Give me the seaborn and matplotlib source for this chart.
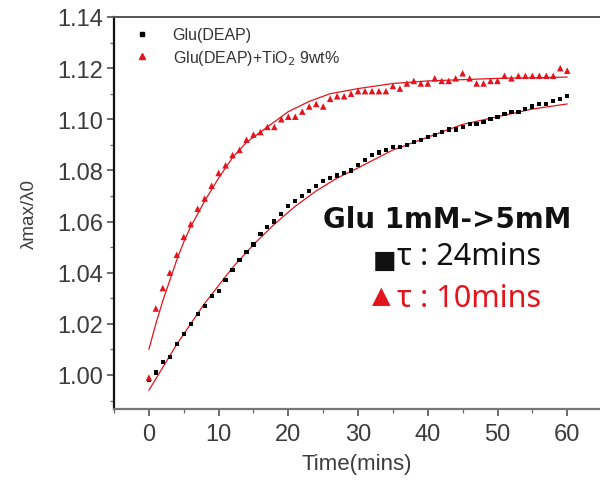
import numpy as np
import pandas as pd
import matplotlib
matplotlib.use("Agg")
import matplotlib.pyplot as plt
from matplotlib.lines import Line2D
from matplotlib.ticker import MultipleLocator
import seaborn as sns

# ---- data ----
time_min = list(range(0, 61))
glu_deap = [0.998, 1.001, 1.005, 1.007, 1.012, 1.016, 1.020, 1.024, 1.027, 1.031,
            1.033, 1.037, 1.041, 1.045, 1.048, 1.051, 1.055, 1.058, 1.060, 1.063,
            1.066, 1.068, 1.070, 1.072, 1.074, 1.076, 1.077, 1.078, 1.079, 1.080,
            1.082, 1.084, 1.086, 1.087, 1.088, 1.089, 1.089, 1.090, 1.091, 1.092,
            1.093, 1.094, 1.095, 1.096, 1.096, 1.097, 1.098, 1.098, 1.099, 1.100,
            1.101, 1.102, 1.103, 1.103, 1.104, 1.105, 1.106, 1.106, 1.107, 1.108,
            1.109]
glu_deap_tio2 = [0.999, 1.026, 1.034, 1.040, 1.047, 1.054, 1.059, 1.065, 1.069, 1.074,
                 1.079, 1.082, 1.086, 1.088, 1.092, 1.094, 1.095, 1.097, 1.097, 1.100,
                 1.101, 1.101, 1.103, 1.105, 1.106, 1.105, 1.108, 1.109, 1.109, 1.110,
                 1.111, 1.111, 1.111, 1.111, 1.111, 1.113, 1.112, 1.114, 1.115, 1.114,
                 1.114, 1.116, 1.115, 1.115, 1.116, 1.118, 1.116, 1.114, 1.114, 1.115,
                 1.115, 1.117, 1.116, 1.117, 1.117, 1.117, 1.117, 1.117, 1.117, 1.120,
                 1.119]

# fitted curves
fit_black_t = [0, 2, 4, 6, 8, 10, 12, 15, 18, 21, 24, 27, 30, 35, 40, 45, 50, 55, 60]
fit_black_y = [0.994, 1.003, 1.012, 1.020, 1.028, 1.035, 1.042, 1.051, 1.059, 1.066,
               1.072, 1.077, 1.081, 1.088, 1.093, 1.098, 1.101, 1.104, 1.106]
fit_red_t = [0, 1, 2, 3, 4, 5, 6, 8, 10, 12, 14, 16, 18, 20, 23, 26, 30, 35, 40, 50, 60]
fit_red_y = [1.010, 1.020, 1.029, 1.037, 1.045, 1.052, 1.058, 1.068, 1.077, 1.085,
             1.091, 1.095, 1.099, 1.103, 1.107, 1.110, 1.112, 1.114, 1.115, 1.116, 1.1165]

series_labels = ["Glu(DEAP)", "Glu(DEAP)+TiO$_2$ 9wt%"]
y_ticks = [1.00, 1.02, 1.04, 1.06, 1.08, 1.10, 1.12, 1.14]
x_ticks = [0, 10, 20, 30, 40, 50, 60]

RED = "#e3141c"
GRAY = "#3c3c3c"

sns.set_theme(style="ticks")
plt.rcParams["font.family"] = ["Liberation Sans", "DejaVu Sans"]

fig = plt.figure(figsize=(6.0, 4.89), dpi=100)
ax = fig.add_axes([114 / 600, 1 - 410 / 489, 1 - 114 / 600, (410 - 18) / 489])

df_b = pd.DataFrame({"t": time_min, "y": glu_deap})
df_r = pd.DataFrame({"t": time_min, "y": glu_deap_tio2})
df_fb = pd.DataFrame({"t": fit_black_t, "y": fit_black_y})
df_fr = pd.DataFrame({"t": fit_red_t, "y": fit_red_y})

sns.scatterplot(data=df_b, x="t", y="y", marker="s", s=9, color="black",
                edgecolor="none", ax=ax, zorder=3)
sns.scatterplot(data=df_r, x="t", y="y", marker="^", s=22, color=RED,
                edgecolor="none", ax=ax, zorder=3)
sns.lineplot(data=df_fb, x="t", y="y", color=RED, lw=0.9, ax=ax, zorder=2)
sns.lineplot(data=df_fr, x="t", y="y", color=RED, lw=0.9, ax=ax, zorder=2)

ax.set_xlim(-5, 64.7)
ax.set_ylim(0.9867, 1.14)
ax.set_xticks(x_ticks)
ax.set_yticks(y_ticks)
ax.set_yticklabels([f"{v:.2f}" for v in y_ticks])
ax.xaxis.set_minor_locator(MultipleLocator(5))
ax.yaxis.set_minor_locator(MultipleLocator(0.01))

ax.spines["right"].set_visible(False)
ax.spines["left"].set_color("#111111")
ax.spines["left"].set_linewidth(1.6)
ax.spines["top"].set_color("#555555")
ax.spines["top"].set_linewidth(1.4)
ax.spines["bottom"].set_color("#777777")
ax.spines["bottom"].set_linewidth(1.6)

ax.tick_params(axis="both", which="major", direction="out", length=5, width=1.1,
               labelsize=17, labelcolor=GRAY, color="#444444")
ax.tick_params(axis="both", which="minor", direction="out", length=3, width=0.9,
               color="#666666")
ax.tick_params(axis="y", pad=3)
ax.tick_params(axis="x", pad=5)

ax.set_xlabel("Time(mins)", fontsize=16, color=GRAY, labelpad=6)
ax.set_ylabel("λmax/λ0", fontsize=13.5, color=GRAY, labelpad=14)

handles = [Line2D([], [], marker="s", ls="none", color="black", markersize=3.5),
           Line2D([], [], marker="^", ls="none", color=RED, markersize=5)]
leg = ax.legend(handles, series_labels, loc="upper left",
                bbox_to_anchor=(128 / 600, 1 - 22 / 489), bbox_transform=fig.transFigure,
                frameon=False, fontsize=11.5, handlelength=1.0, handletextpad=1.4,
                labelspacing=0.35, borderaxespad=0)
for t in leg.get_texts():
    t.set_color("#333333")

fig.text(323 / 600, 1 - 220 / 489, "Glu 1mM->5mM", fontsize=20, fontweight="bold",
         family=["DejaVu Sans"], va="center", ha="left", color="#111111")
# symbol glyphs, smaller than the text as in the reference
fig.text(373 / 600, 1 - 268 / 489, "■", fontsize=18, family=["DejaVu Sans"],
         va="baseline", ha="left", color="#111111")
fig.text(372 / 600, 1 - 303 / 489, "▲", fontsize=17.5, family=["DejaVu Sans"],
         va="baseline", ha="left", color=RED)
fig.text(397 / 600, 1 - 257 / 489, "τ : 24mins", fontsize=22,
         family=["Noto Sans", "DejaVu Sans"], va="center", ha="left", color="#111111")
fig.text(397 / 600, 1 - 299 / 489, "τ : 10mins", fontsize=22,
         family=["Noto Sans", "DejaVu Sans"], va="center", ha="left", color=RED)

fig.savefig("out.png", dpi=100)
